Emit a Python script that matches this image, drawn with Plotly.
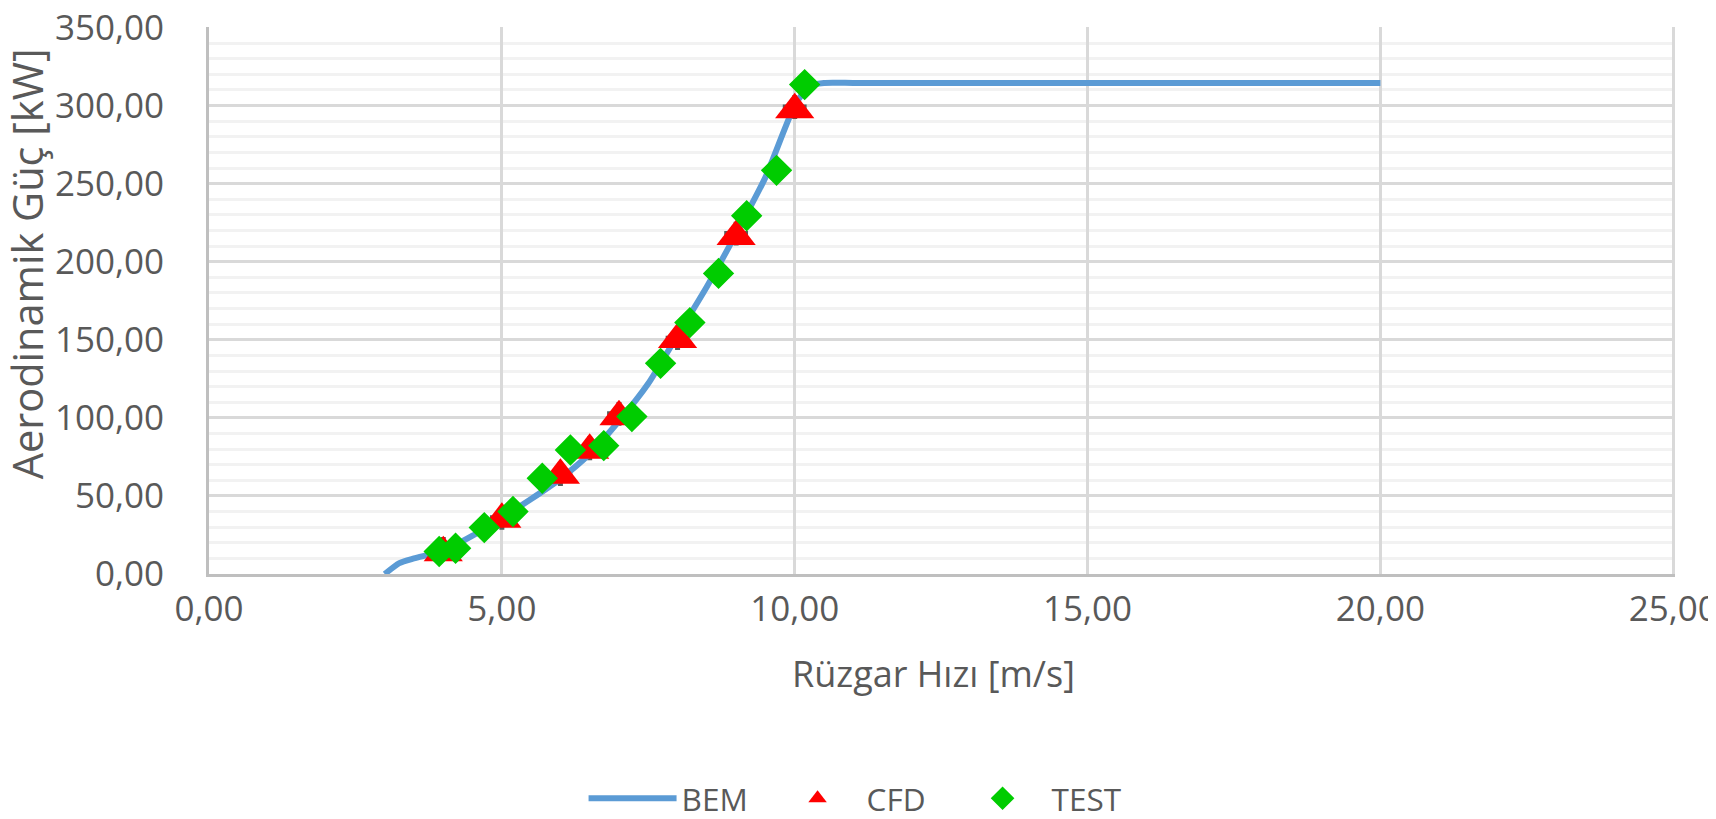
import plotly.graph_objects as go

# ---- data ----
BEM_X = [3.0, 3.25, 3.5, 4.0, 4.5, 5.0, 5.5, 6.0, 6.5, 7.0, 7.5, 8.0, 8.5, 9.0, 9.5, 10.0, 10.25, 10.5,
         11, 12, 13, 14, 15, 16, 17, 18, 19, 20]
BEM_Y = [0.0, 7.0, 10.0, 15.0, 24.5, 36.0, 48.0, 61.0, 77.0, 98.0, 122.0, 153.0, 184.0, 218.0, 254.0, 300.0,
         312.5, 314.5, 314.5, 314.5, 314.5, 314.5, 314.5, 314.5, 314.5, 314.5, 314.5, 314.5]

CFD_X = [4, 5, 6, 6.5, 7, 8, 9, 10]
CFD_Y = [13.6, 35.0, 63.2, 79.2, 100.7, 150.2, 216.1, 297.3]
CFD_REF_Y = [16.0, 36.0, 64.0, 80.5, 102.6, 151.0, 218.0, 299.0]

TEST_X = [3.93, 4.21, 4.70, 5.19, 5.69, 6.17, 6.74, 7.22, 7.71, 8.21, 8.70, 9.18, 9.69, 10.17]
TEST_Y = [14.4, 16.5, 29.7, 40.0, 61.3, 79.4, 82.2, 100.8, 134.9, 161.0, 192.5, 229.4, 258.5, 313.4]

X_TICKS = [0, 5, 10, 15, 20, 25]
Y_TICKS = [0, 50, 100, 150, 200, 250, 300, 350]

FONT = "Open Sans"
TXT = "#595959"

fig = go.Figure()

fig.add_trace(go.Scatter(
    x=CFD_X, y=CFD_REF_Y, mode="markers", showlegend=False, hoverinfo="skip",
    marker=dict(symbol="cross-thin", size=17, line=dict(color="#595959", width=5))))

fig.add_trace(go.Scatter(
    x=BEM_X, y=BEM_Y, mode="lines", name="BEM",
    line=dict(color="#5B9BD5", width=6, shape="spline", smoothing=0.6)))

fig.add_trace(go.Scatter(
    x=CFD_X, y=CFD_Y, mode="markers", name="CFD",
    marker=dict(symbol="triangle-up", size=34, color="#FF0000", line=dict(width=0))))

fig.add_trace(go.Scatter(
    x=TEST_X, y=TEST_Y, mode="markers", name="TEST",
    marker=dict(symbol="diamond", size=22, color="#00CC00",
                line=dict(color="#00CC00", width=2))))

fig.update_layout(
    width=1716, height=819,
    margin=dict(l=201, r=49, t=19, b=253, autoexpand=False),
    paper_bgcolor="white", plot_bgcolor="white",
    separators=", ",
    font=dict(family=FONT, color=TXT, size=35),
    showlegend=True,
    legend=dict(orientation="h", x=0.2555, xanchor="left", y=-0.41, yanchor="middle",
                font=dict(size=31.5, color=TXT), itemwidth=88, entrywidth=82,
                entrywidthmode="pixels", bgcolor="rgba(0,0,0,0)"),
    annotations=[
        dict(text="Rüzgar Hızı [m/s]", x=0.494, xref="paper", y=-0.182, yref="paper",
             showarrow=False, font=dict(size=36, color=TXT), xanchor="center", yanchor="middle"),
        dict(text="Aerodinamik Güç [kW]", x=-0.1245, xref="paper", y=0.567, yref="paper",
             showarrow=False, textangle=-90, font=dict(size=41.5, color=TXT),
             xanchor="center", yanchor="middle"),
    ],
)

fig.update_xaxes(
    range=[0, 25.03], tickvals=X_TICKS, tickformat=".2f", automargin=False,
    showgrid=True, gridcolor="#D9D9D9", gridwidth=3,
    showline=True, linecolor="#BFBFBF", linewidth=3,
    zeroline=False, ticks="", ticklabelstandoff=2, ticklabeloverflow="allow",
    tickfont=dict(size=35, color=TXT))

fig.update_yaxes(
    range=[0, 350.3], tickvals=Y_TICKS, tickformat=".2f", automargin=False,
    showgrid=True, gridcolor="#D9D9D9", gridwidth=3,
    minor=dict(dtick=10, showgrid=True, gridcolor="#F2F2F2", gridwidth=3),
    showline=True, linecolor="#BFBFBF", linewidth=3,
    zeroline=False, ticks="", ticklabelstandoff=35, ticklabeloverflow="allow",
    tickfont=dict(size=35, color=TXT))

fig.write_html("out.html")
